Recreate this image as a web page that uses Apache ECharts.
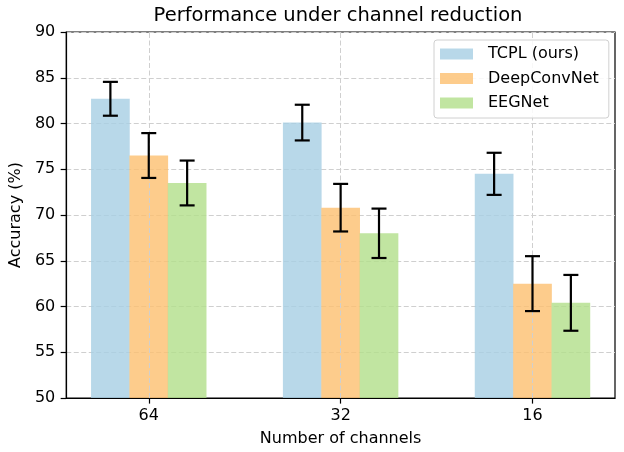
<!DOCTYPE html>
<html>
<head>
<meta charset="utf-8">
<script src="https://cdn.jsdelivr.net/npm/echarts@6/dist/echarts.min.js"></script>
<style>
html,body{margin:0;padding:0;background:#fff;}
#chart{width:624px;height:452px;}
</style>
</head>
<body>
<div id="chart"></div>
<script>
// ---- data ----
const channels = ['64', '32', '16'];
const seriesNames = ['TCPL (ours)', 'DeepConvNet', 'EEGNet'];
const tcplMean = [82.7, 80.1, 74.5];
const tcplStd = [1.85, 1.95, 2.3];
const deepMean = [76.5, 70.8, 62.5];
const deepStd = [2.45, 2.6, 3.0];
const eegMean = [73.5, 68.0, 60.4];
const eegStd = [2.45, 2.7, 3.05];
const yTicks = [50, 55, 60, 65, 70, 75, 80, 85, 90];

// ---- styling ----
const colors = ['rgba(166,206,227,0.8)', 'rgba(253,191,111,0.8)', 'rgba(178,223,138,0.8)'];
const barW = 0.2;            // bar width in category units
const offsets = [-barW, 0, barW];
const FONT = 'DejaVu Sans';

const means = [tcplMean, deepMean, eegMean];
const stds = [tcplStd, deepStd, eegStd];
const catIdx = channels.map((c, i) => i);

const chart = echarts.init(document.getElementById('chart'), null, {renderer: 'canvas'});

const barSeries = seriesNames.map((name, s) => ({
  name: name,
  type: 'bar',
  data: catIdx.map(i => [i + offsets[s], means[s][i]]),
  barWidth: 38.7,
  barGap: '-100%',
  itemStyle: {color: colors[s]},
  clip: true,
  z: 3
}));

const errData = [];
seriesNames.forEach((name, s) => {
  catIdx.forEach(i => {
    errData.push([i + offsets[s], means[s][i] - stds[s][i], means[s][i] + stds[s][i]]);
  });
});

const errSeries = {
  type: 'custom',
  name: 'err',
  data: errData,
  encode: {x: 0, y: [1, 2]},
  z: 5,
  silent: true,
  renderItem: function (params, api) {
    const x = api.value(0);
    const lo = api.coord([x, api.value(1)]);
    const hi = api.coord([x, api.value(2)]);
    const hw = 7.5;
    const st = {stroke: '#000', lineWidth: 2.2};
    return {
      type: 'group',
      children: [
        {type: 'line', shape: {x1: lo[0], y1: lo[1], x2: hi[0], y2: hi[1]}, style: st},
        {type: 'line', shape: {x1: lo[0] - hw, y1: lo[1], x2: lo[0] + hw, y2: lo[1]}, style: st},
        {type: 'line', shape: {x1: hi[0] - hw, y1: hi[1], x2: hi[0] + hw, y2: hi[1]}, style: st}
      ]
    };
  }
};

const gridLineSeries = {
  type: 'line',
  name: 'vgrid',
  data: [],
  silent: true,
  z: 1,
  markLine: {
    silent: true,
    symbol: ['none', 'none'],
    label: {show: false},
    lineStyle: {color: '#cfcfcf', type: [5, 2.5], width: 1},
    data: catIdx.map(i => ({xAxis: i}))
  }
};

const option = {
  backgroundColor: '#fff',
  animation: false,
  textStyle: {fontFamily: FONT},
  title: {
    text: 'Performance under channel reduction',
    left: 338,
    top: 6,
    padding: 0,
    textAlign: 'center',
    textStyle: {fontFamily: FONT, fontSize: 19.5, fontWeight: 'normal', color: '#000'}
  },
  legend: {
    data: seriesNames,
    orient: 'vertical',
    left: 434,
    top: 40,
    z: 20,
    padding: [6, 10, 7, 6],
    itemGap: 8.5,
    itemWidth: 33,
    itemHeight: 11,
    icon: 'rect',
    align: 'left',
    borderColor: '#d0d0d0',
    borderWidth: 1,
    borderRadius: 3,
    backgroundColor: 'rgba(255,255,255,0.85)',
    textStyle: {fontFamily: FONT, fontSize: 16, color: '#000', padding: [0, 0, 0, 10]}
  },
  grid: {
    left: 62, right: 9, top: 32, bottom: 54,
    show: true, borderColor: '#000', borderWidth: 1.2, backgroundColor: 'transparent'
  },
  xAxis: {
    type: 'value',
    min: -0.43,
    max: 2.43,
    z: 6,
    name: 'Number of channels',
    nameLocation: 'middle',
    nameGap: 33,
    nameTextStyle: {fontFamily: FONT, fontSize: 16, color: '#000'},
    axisLine: {show: true, onZero: false, lineStyle: {color: '#000', width: 1.2}},
    axisTick: {show: true, customValues: catIdx, length: 5.6, lineStyle: {color: '#000', width: 1.2}},
    axisLabel: {
      customValues: catIdx,
      margin: 10,
      fontFamily: FONT, fontSize: 16, color: '#000',
      formatter: v => channels[Math.round(v)]
    },
    splitLine: {show: false}
  },
  yAxis: {
    type: 'value',
    min: yTicks[0],
    max: yTicks[yTicks.length - 1],
    interval: 5,
    z: 2,
    name: 'Accuracy (%)',
    nameLocation: 'middle',
    nameGap: 42,
    nameTextStyle: {fontFamily: FONT, fontSize: 16, color: '#000'},
    axisLine: {show: true, onZero: false, lineStyle: {color: '#000', width: 1.2}},
    axisTick: {show: true, length: 5.6, lineStyle: {color: '#000', width: 1.2}},
    axisLabel: {margin: 11, fontFamily: FONT, fontSize: 16, color: '#000'},
    splitLine: {show: true, lineStyle: {color: '#cfcfcf', type: [5, 2.5], width: 1}}
  },
  series: [gridLineSeries].concat(barSeries, [errSeries])
};

chart.setOption(option);
</script>
</body>
</html>
